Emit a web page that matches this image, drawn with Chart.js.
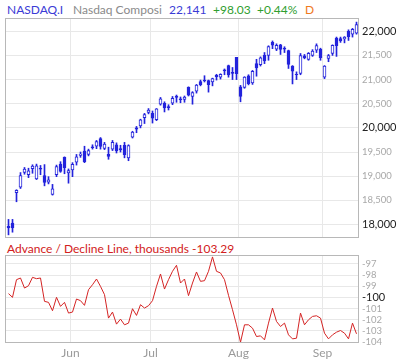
<!DOCTYPE html>
<html>
<head>
<meta charset="utf-8">
<script src="https://cdn.jsdelivr.net/npm/chart.js@4.4.1/dist/chart.umd.min.js"></script>
<style>
    body { margin: 0; background: #fff; font-family: Lato, sans-serif; }
    #wrap { position: relative; width: 400px; height: 362px; overflow: hidden; }
    .t { position: absolute; font-size: 12px; white-space: nowrap; line-height: 14px; }
    canvas { position: absolute; left: 0; }
</style>
</head>
<body>
<div id="wrap">
    <span class="t" style="left:7px;top:3px;color:#3b3bd6">NASDAQ.I</span>
    <span class="t" style="left:73px;top:3px;color:#8a8a8a">Nasdaq Composi</span>
    <span class="t" style="left:169px;top:3px;color:#3b3bd6">22,141</span>
    <span class="t" style="left:213px;top:3px;color:#2f9e2f">+98.03</span>
    <span class="t" style="left:257px;top:3px;color:#2f9e2f">+0.44%</span>
    <span class="t" style="left:305px;top:3px;color:#f07a1e">D</span>
    <span class="t" style="left:7px;top:242px;color:#d22020">Advance / Decline Line, thousands -103.29</span>
    <div style="position:absolute;left:0;top:0;width:400px;height:238px"><canvas id="priceChart"></canvas></div>
    <div style="position:absolute;left:0;top:240px;width:400px;height:122px"><canvas id="adChart"></canvas></div>
</div>
<script>
// Trading days, May 8 - Sep 12
const dates = [
    '05-08', '05-09', '05-12', '05-13', '05-14', '05-15', '05-16', '05-19', '05-20', '05-21', '05-22', '05-23',
    '05-27', '05-28', '05-29', '05-30', '06-02', '06-03', '06-04', '06-05', '06-06', '06-09', '06-10', '06-11',
    '06-12', '06-13', '06-16', '06-17', '06-18', '06-20', '06-23', '06-24', '06-25', '06-26', '06-27', '06-30',
    '07-01', '07-02', '07-03', '07-07', '07-08', '07-09', '07-10', '07-11', '07-14', '07-15', '07-16', '07-17',
    '07-18', '07-21', '07-22', '07-23', '07-24', '07-25', '07-28', '07-29', '07-30', '07-31', '08-01', '08-04',
    '08-05', '08-06', '08-07', '08-08', '08-11', '08-12', '08-13', '08-14', '08-15', '08-18', '08-19', '08-20',
    '08-21', '08-22', '08-25', '08-26', '08-27', '08-28', '08-29', '09-02', '09-03', '09-04', '09-05', '09-08',
    '09-09', '09-10', '09-11', '09-12'
];
const opens = [
    17960, 18030, 18660, 18770, 19080, 19030, 19155, 18945, 19165, 19010, 18875, 18620,
    19030, 19250, 19390, 19070, 19130, 19290, 19430, 19520, 19450, 19610, 19620, 19780,
    19575, 19450, 19560, 19650, 19570, 19640, 19380, 19810, 20000, 20040, 20210, 20320,
    20300, 20170, 20490, 20510, 20440, 20510, 20660, 20600, 20590, 20840, 20650, 20760,
    20960, 20990, 20980, 20950, 21090, 21050, 21200, 21290, 21150, 21460, 20850, 20840,
    21080, 20930, 21330, 21310, 21500, 21500, 21770, 21630, 21720, 21650, 21600, 21280,
    21110, 21125, 21490, 21420, 21500, 21610, 21630, 21050, 21440, 21540, 21860, 21850,
    21840, 22000, 21940, 21960
];
const highs = [
    18105, 18105, 18720, 19075, 19180, 19165, 19236, 19250, 19222, 19240, 18990, 18830,
    19230, 19300, 19400, 19150, 19280, 19450, 19500, 19620, 19560, 19650, 19740, 19800,
    19700, 19600, 19740, 19690, 19640, 19700, 19650, 19930, 20030, 20180, 20300, 20400,
    20350, 20400, 20630, 20540, 20480, 20650, 20680, 20640, 20660, 20850, 20750, 20900,
    20990, 21080, 20990, 21030, 21110, 21120, 21220, 21300, 21250, 21460, 20880, 21060,
    21100, 21190, 21420, 21470, 21560, 21700, 21800, 21740, 21730, 21680, 21610, 21290,
    21160, 21540, 21520, 21560, 21620, 21740, 21650, 21290, 21520, 21720, 21880, 21880,
    21890, 22030, 22060, 22190
];
const lows = [
    17785, 17840, 18470, 18745, 19040, 18970, 19060, 18930, 19030, 18800, 18840, 18608,
    18990, 19080, 19050, 18855, 18990, 19230, 19390, 19280, 19420, 19560, 19570, 19560,
    19550, 19350, 19530, 19480, 19500, 19380, 19320, 19790, 19900, 20000, 20090, 20290,
    20100, 20150, 20470, 20330, 20370, 20480, 20530, 20520, 20530, 20660, 20490, 20720,
    20870, 20950, 20740, 20870, 20990, 21010, 21100, 21050, 21000, 21000, 20540, 20820,
    20890, 20900, 21070, 21280, 21330, 21400, 21640, 21600, 21520, 21560, 21230, 20910,
    21000, 21100, 21430, 21400, 21480, 21560, 21400, 21020, 21370, 21500, 21480, 21770,
    21760, 21810, 21880, 21940
];
const closes = [
    17928, 17929, 18708, 19010, 19147, 19112, 19211, 19215, 19143, 18873, 18925, 18737,
    19199, 19101, 19176, 19114, 19243, 19399, 19460, 19298, 19530, 19591, 19715, 19616,
    19662, 19407, 19701, 19521, 19546, 19447, 19631, 19913, 19974, 20168, 20273, 20370,
    20203, 20393, 20601, 20413, 20418, 20611, 20631, 20586, 20640, 20678, 20730, 20886,
    20896, 20974, 20893, 21020, 21058, 21108, 21179, 21098, 21130, 21122, 20650, 21054,
    20917, 21169, 21243, 21450, 21385, 21682, 21713, 21711, 21623, 21630, 21315, 21173,
    21100, 21497, 21449, 21544, 21590, 21705, 21456, 21280, 21498, 21708, 21700, 21799,
    21879, 21886, 22043, 22141
];
// Advance / Decline line, thousands
const adLine = [
    -99.66, -99.99, -98.41, -98.26, -99.16, -98.95, -98.20, -98.32, -98.26, -100.35, -100.44, -101.19,
    -99.99, -100.80, -100.44, -101.40, -101.31, -100.14, -100.29, -100.71, -99.31, -98.86, -98.35, -99.01,
    -99.75, -101.85, -101.31, -102.39, -101.94, -102.45, -102.30, -101.01, -101.61, -100.65, -100.95, -100.74,
    -100.29, -99.01, -97.90, -99.25, -98.41, -97.66, -97.12, -98.71, -98.35, -99.84, -98.71, -97.72,
    -98.56, -98.50, -97.66, -96.37, -97.66, -97.81, -98.41, -99.81, -101.10, -102.45, -104.01, -102.45,
    -102.45, -102.75, -103.50, -103.44, -103.80, -102.30, -100.95, -102.15, -102.60, -102.30, -103.35, -103.71,
    -103.65, -101.40, -102.45, -102.00, -101.70, -101.64, -101.85, -103.20, -103.71, -103.35, -103.11, -102.96,
    -103.20, -103.71, -102.30, -103.26
];
const monthNames = ['Jun', 'Jul', 'Aug', 'Sep'];
const priceTicks = [18000, 18500, 19000, 19500, 20000, 20500, 21000, 21500, 22000];
const adTicks = [-104, -103, -102, -101, -100, -99, -98, -97];

const BLUE = '#2323dc';
const GRID = '#e8e8e8';
const FRAME = '#b8b8b8';

Chart.defaults.font.family = 'Lato, sans-serif';
Chart.defaults.animation = false;

// month gridlines sit half a day before the first session of each month
const monthStarts = [];
for (let i = 1; i < dates.length; i++) {
    if (dates[i].slice(0, 2) !== dates[i - 1].slice(0, 2)) monthStarts.push(i - 0.5);
}

const xMin = -0.875;
const xMax = 87.625;

// frame around the plot area
const framePlugin = {
    id: 'frame',
    afterDraw(chart) {
        const a = chart.chartArea;
        const c = chart.ctx;
        c.save();
        c.strokeStyle = FRAME;
        c.lineWidth = 1;
        c.strokeRect(Math.round(a.left) + 0.5, Math.round(a.top) + 0.5,
            Math.round(a.right - a.left) - 1, Math.round(a.bottom - a.top) - 1);
        c.restore();
    }
};

function xAxis(showLabels, height) {
    return {
        type: 'linear',
        min: xMin,
        max: xMax,
        offset: false,
        afterBuildTicks: (axis) => { axis.ticks = monthStarts.map(v => ({ value: v })); },
        afterFit: (axis) => {
            axis.height = height;
            axis.paddingLeft = 0;
            axis.paddingRight = 0;
        },
        border: { display: false },
        grid: { color: GRID, drawTicks: false, offset: false },
        ticks: {
            display: showLabels,
            autoSkip: false,
            maxRotation: 0,
            padding: 3,
            color: '#9a9a9a',
            font: { size: 12 },
            callback: (v, i) => monthNames[i]
        }
    };
}

// right axis: fixed width, no extra room reserved for label overhang
function fitRightAxis(axis) {
    axis.width = 41;
    axis.paddingTop = 0;
    axis.paddingBottom = 0;
}

// bold label for the round numbers
const isMajorPrice = (ctx) => ctx.tick !== undefined && ctx.tick.value % 2000 === 0;
const isMajorAd = (ctx) => ctx.tick !== undefined && ctx.tick.value === -100;

const bodies = dates.map((d, i) => ({ x: i, y: [opens[i], closes[i]] }));
const wicks = dates.map((d, i) => ({ x: i, y: [lows[i], highs[i]] }));

new Chart(document.getElementById('priceChart'), {
    type: 'bar',
    data: {
        datasets: [
            {
                data: bodies,
                grouped: false,
                barThickness: 3,
                borderWidth: 1,
                borderSkipped: false,
                borderColor: BLUE,
                backgroundColor: dates.map((d, i) => closes[i] >= opens[i] ? '#ffffff' : BLUE)
            },
            {
                data: wicks,
                grouped: false,
                barThickness: 1,
                borderWidth: 0,
                backgroundColor: BLUE
            }
        ]
    },
    options: {
        responsive: true,
        maintainAspectRatio: false,
        layout: { padding: { left: 5, top: 18, right: 0, bottom: 0 } },
        plugins: { legend: { display: false }, tooltip: { enabled: false } },
        scales: {
            x: xAxis(false, 0),
            y: {
                position: 'right',
                min: 17720,
                max: 22275,
                afterBuildTicks: (axis) => { axis.ticks = priceTicks.map(v => ({ value: v })); },
                afterFit: fitRightAxis,
                border: { display: false },
                grid: { color: GRID, drawTicks: false },
                ticks: {
                    autoSkip: false,
                    padding: 3,
                    callback: (v) => v.toLocaleString('en-US'),
                    color: (ctx) => isMajorPrice(ctx) ? '#222' : '#a8a8a8',
                    font: (ctx) => ({ size: isMajorPrice(ctx) ? 11 : 9.5 })
                }
            }
        }
    },
    plugins: [framePlugin]
});

new Chart(document.getElementById('adChart'), {
    type: 'line',
    data: {
        datasets: [{
            data: adLine.map((v, i) => ({ x: i, y: v })),
            borderColor: '#d42424',
            borderWidth: 1,
            pointRadius: 0,
            tension: 0
        }]
    },
    options: {
        responsive: true,
        maintainAspectRatio: false,
        layout: { padding: { left: 5, top: 15, right: 0, bottom: 0 } },
        plugins: { legend: { display: false }, tooltip: { enabled: false } },
        scales: {
            x: xAxis(true, 19),
            y: {
                position: 'right',
                min: -104.08,
                max: -96.2,
                afterBuildTicks: (axis) => { axis.ticks = adTicks.map(v => ({ value: v })); },
                afterFit: fitRightAxis,
                border: { display: false },
                grid: { color: GRID, drawTicks: false },
                ticks: {
                    autoSkip: false,
                    padding: 3,
                    callback: (v) => String(v),
                    color: (ctx) => isMajorAd(ctx) ? '#222' : '#a8a8a8',
                    font: (ctx) => ({ size: isMajorAd(ctx) ? 11 : 9.5 })
                }
            }
        }
    },
    plugins: [framePlugin]
});
</script>
</body>
</html>
